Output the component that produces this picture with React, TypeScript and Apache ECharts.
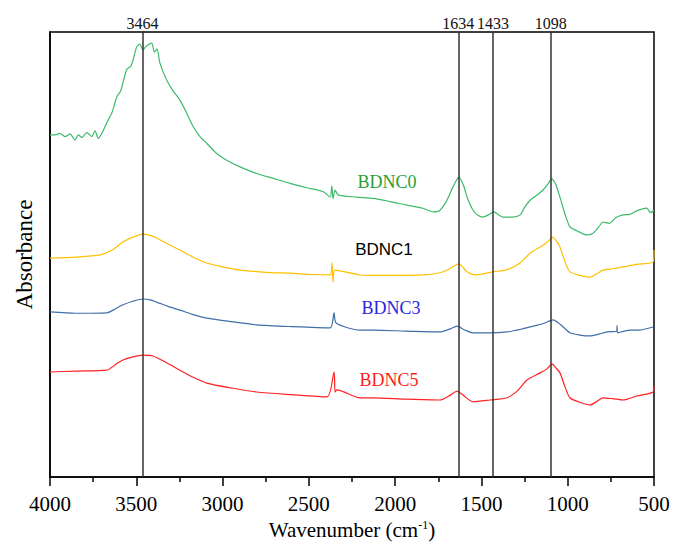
import React, { useEffect, useRef } from "react";
import * as echarts from "echarts";

// [wavenumber (cm-1), absorbance (offset, arbitrary units)]
const bdnc0: number[][] = [
  [4000, 76.9], [3971, 76.9], [3942, 77.2], [3913, 76.5], [3884, 77.1], [3855, 75.7],
  [3836, 76.9], [3816, 76.3], [3787, 77.4], [3758, 76.5], [3739, 77.8], [3720, 76.1],
  [3700, 77.2], [3671, 79.6], [3640, 82.0], [3613, 85.4], [3590, 86.8], [3556, 91.5],
  [3530, 92.4], [3498, 96.6], [3480, 97.3], [3461, 96.0], [3440, 96.9], [3411, 97.5],
  [3395, 95.5], [3380, 96.2], [3363, 93.0], [3324, 89.2], [3286, 86.7], [3247, 84.7],
  [3208, 81.8], [3170, 78.7], [3131, 76.5], [3092, 75.0], [3034, 72.7], [2976, 71.2],
  [2899, 69.7], [2802, 68.2], [2706, 67.1], [2609, 66.0], [2512, 65.0], [2416, 64.1],
  [2377, 62.9], [2367, 65.4], [2360, 62.5], [2348, 64.5], [2331, 63.4], [2223, 62.9],
  [2128, 62.6], [2030, 61.9], [1933, 61.1], [1840, 60.4], [1780, 59.6], [1745, 59.8],
  [1715, 61.2], [1690, 63.0], [1665, 65.2], [1630, 67.4], [1605, 65.6], [1580, 62.6],
  [1549, 60.0], [1520, 58.8], [1491, 58.4], [1460, 58.9], [1427, 59.6], [1400, 58.9],
  [1375, 58.4], [1320, 58.4], [1276, 58.9], [1250, 60.6], [1218, 62.2], [1180, 63.3],
  [1143, 64.5], [1115, 65.8], [1093, 67.0], [1070, 65.8], [1045, 62.9], [1015, 59.0],
  [987, 56.2], [950, 55.4], [890, 54.4], [853, 54.8], [820, 56.2], [795, 57.3],
  [760, 57.0], [720, 58.3], [679, 58.9], [640, 59.0], [600, 59.8], [542, 60.4],
  [520, 59.4], [500, 60.0],
];
const bdnc1: number[][] = [
  [4000, 49.2], [3850, 49.4], [3710, 49.9], [3640, 51.0], [3577, 52.8], [3520, 53.9],
  [3461, 54.6], [3420, 54.3], [3382, 53.7], [3320, 52.4], [3247, 51.0], [3170, 49.4],
  [3092, 48.1], [2999, 47.2], [2899, 46.5], [2750, 46.0], [2609, 45.8], [2480, 45.5],
  [2377, 45.4], [2366, 48.1], [2360, 43.8], [2348, 46.5], [2204, 45.4], [2128, 45.3],
  [1980, 45.3], [1838, 45.4], [1740, 45.9], [1699, 46.5], [1660, 47.4], [1630, 47.9],
  [1605, 47.0], [1583, 46.1], [1537, 45.4], [1433, 46.1], [1350, 46.6], [1276, 48.1],
  [1218, 50.3], [1143, 52.1], [1110, 53.1], [1087, 53.9], [1065, 53.0], [1045, 51.7],
  [1015, 48.3], [987, 46.1], [930, 45.3], [871, 44.9], [835, 45.6], [795, 46.5],
  [740, 46.8], [679, 47.2], [600, 47.8], [505, 48.3], [500, 51.0],
];
const bdnc3: number[][] = [
  [4000, 37.1], [3850, 36.8], [3671, 36.9], [3620, 37.8], [3577, 38.7], [3520, 39.5],
  [3461, 40.0], [3420, 39.8], [3382, 39.3], [3320, 38.4], [3247, 37.5], [3170, 36.5],
  [3092, 35.7], [2950, 34.9], [2802, 34.2], [2600, 33.8], [2377, 33.5], [2354, 36.9],
  [2342, 34.6], [2204, 33.0], [2128, 33.0], [1940, 32.8], [1740, 32.6], [1680, 33.3],
  [1641, 33.9], [1600, 33.1], [1549, 32.4], [1450, 32.4], [1352, 32.6], [1270, 33.2],
  [1201, 33.9], [1140, 34.5], [1085, 35.3], [1040, 34.2], [987, 32.4], [930, 31.9],
  [871, 31.7], [820, 32.1], [772, 32.6], [716, 32.8], [714, 34.0], [712, 32.4],
  [640, 33.0], [587, 33.0], [505, 33.7],
];
const bdnc5: number[][] = [
  [4000, 23.6], [3850, 23.8], [3671, 24.0], [3620, 25.3], [3577, 26.3], [3520, 27.0],
  [3461, 27.4], [3403, 27.2], [3330, 25.8], [3247, 24.0], [3170, 22.4], [3092, 21.1],
  [2950, 20.0], [2802, 19.1], [2600, 18.5], [2395, 18.0], [2354, 23.6], [2348, 19.1],
  [2337, 19.6], [2204, 17.8], [2128, 17.8], [1940, 17.5], [1740, 17.3], [1680, 18.4],
  [1641, 19.3], [1600, 18.2], [1549, 16.9], [1450, 17.3], [1352, 17.8], [1290, 19.4],
  [1236, 21.8], [1160, 23.4], [1120, 24.3], [1091, 25.4], [1070, 24.6], [1045, 23.4],
  [1015, 20.2], [987, 17.8], [930, 16.8], [871, 16.2], [830, 17.0], [795, 17.8],
  [740, 17.6], [679, 17.3], [600, 18.2], [505, 19.1], [500, 20.5],
];

const peakLines: number[] = [3464, 1634, 1433, 1098];
const seriesNames: string[] = ["BDNC0", "BDNC1", "BDNC3", "BDNC5"];
const xTicks: number[] = [4000, 3500, 3000, 2500, 2000, 1500, 1000, 500];

const SERIF = "'Liberation Serif', 'Times New Roman', serif";
const SANS = "'Liberation Sans', Arial, sans-serif";

export default function App() {
  const ref = useRef<HTMLDivElement>(null);
  useEffect(() => {
    if (!ref.current) return;
    const chart = echarts.init(ref.current, undefined, { renderer: "svg" });
    const lineColors = ["#3dba6c", "#ffc000", "#3f6fa8", "#ff2222"];
    const datas = [bdnc0, bdnc1, bdnc3, bdnc5];
    const series: any[] = datas.map((d, i) => ({
      name: seriesNames[i],
      type: "line",
      data: d,
      showSymbol: false,
      symbol: "none",
      smooth: 0.25,
      lineStyle: { color: lineColors[i], width: 1.2 },
      z: 3,
    }));
    series.push({
      type: "line",
      data: [],
      markLine: {
        silent: true,
        symbol: ["none", "none"],
        lineStyle: { color: "#333", width: 1.5, type: "solid" },
        label: {
          show: true,
          position: "end",
          distance: 1,
          formatter: (p: any) => String(p.value),
          fontFamily: SERIF,
          fontSize: 16,
          color: "#111",
        },
        data: peakLines.map((v) => ({ xAxis: v })),
      },
      z: 2,
    });
    chart.setOption({
      animation: false,
      backgroundColor: "#fff",
      grid: {
        left: 50,
        right: 21,
        top: 32,
        bottom: 69,
        show: true,
        borderColor: "#000",
        borderWidth: 1.5,
      },
      xAxis: {
        type: "value",
        min: 500,
        max: 4000,
        interval: 500,
        inverse: true,
        axisLine: { show: true, lineStyle: { color: "#000", width: 1.5 } },
        axisTick: { show: true, inside: false, length: 9, lineStyle: { color: "#000", width: 1.5 } },
        minorTick: { show: true, splitNumber: 2, length: 5, lineStyle: { color: "#000", width: 1.5 } },
        splitLine: { show: false },
        axisLabel: {
          fontFamily: SERIF,
          fontSize: 21,
          color: "#000",
          margin: 16,
          formatter: (v: number) => (xTicks.includes(v) ? String(v) : ""),
        },
        name: "{n|Wavenumber (cm}{s|-1}{n|)}",
        nameLocation: "middle",
        nameGap: 42,
        nameTextStyle: {
          rich: {
            n: { fontFamily: SERIF, fontSize: 21, color: "#000" },
            s: { fontFamily: SERIF, fontSize: 12, color: "#000", verticalAlign: "top", padding: [0, 0, 10, 0] },
          },
        },
      },
      yAxis: {
        type: "value",
        min: 0,
        max: 100,
        axisLine: { show: true, lineStyle: { color: "#000", width: 1.5 } },
        axisTick: { show: false },
        axisLabel: { show: false },
        splitLine: { show: false },
        name: "Absorbance",
        nameLocation: "middle",
        nameGap: 14,
        nameTextStyle: { fontFamily: SERIF, fontSize: 23, color: "#000" },
      },
      graphic: [
        { type: "text", x: 387, y: 182, style: { text: "BDNC0", fill: "#2aa032", font: `18px ${SERIF}`, textAlign: "center", textVerticalAlign: "middle" } },
        { type: "text", x: 384, y: 249, style: { text: "BDNC1", fill: "#000", font: `17px ${SANS}`, textAlign: "center", textVerticalAlign: "middle" } },
        { type: "text", x: 391, y: 308, style: { text: "BDNC3", fill: "#2626e0", font: `18px ${SERIF}`, textAlign: "center", textVerticalAlign: "middle" } },
        { type: "text", x: 389, y: 380, style: { text: "BDNC5", fill: "#ff1a1a", font: `18px ${SERIF}`, textAlign: "center", textVerticalAlign: "middle" } },
      ],
      series,
    });
    return () => chart.dispose();
  }, []);
  return (
    <div
      ref={ref}
      style={{ position: "absolute", left: 0, top: 0, width: 675, height: 546 }}
    />
  );
}
